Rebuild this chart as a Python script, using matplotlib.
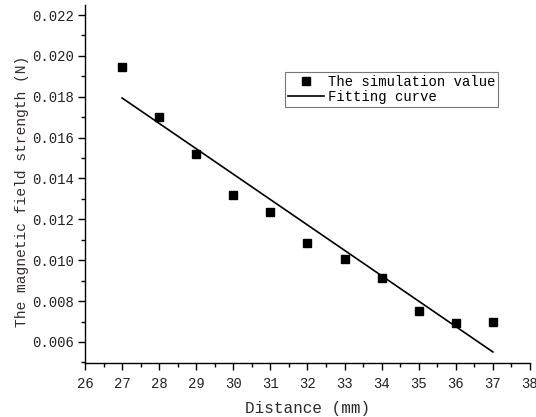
import matplotlib
matplotlib.use("Agg")
import matplotlib.pyplot as plt
from matplotlib.ticker import MultipleLocator, FormatStrFormatter

distance = [27, 28, 29, 30, 31, 32, 33, 34, 35, 36, 37]
sim_value = [0.01946, 0.01701, 0.0152, 0.0132, 0.01236, 0.01084, 0.01006, 0.00913, 0.00752, 0.00693, 0.00698]
fit_x = [27, 37]
fit_y = [0.01794, 0.00551]

xlabel = "Distance (mm)"
ylabel = "The magnetic field strength (N)"
legend_labels = ["The simulation value", "Fitting curve"]

FONT = ["Liberation Mono", "DejaVu Sans Mono"]
plt.rcParams['font.family'] = FONT

fig = plt.figure(figsize=(5.36, 4.17), dpi=100)
ax = fig.add_axes([85/536, 1 - 363/417, 445/536, 358/417])

ax.plot(distance, sim_value, linestyle='none', marker='s', markersize=6.3,
        color='black', label=legend_labels[0])
ax.plot(fit_x, fit_y, color='black', linewidth=1.2, label=legend_labels[1])

ax.set_xlim(26, 38)
ax.set_ylim(0.00497, 0.02249)
ax.xaxis.set_major_locator(MultipleLocator(1))
ax.xaxis.set_minor_locator(MultipleLocator(0.5))
ax.yaxis.set_major_locator(MultipleLocator(0.002))
ax.yaxis.set_minor_locator(MultipleLocator(0.001))
ax.yaxis.set_major_formatter(FormatStrFormatter('%.3f'))

for s in ['top', 'right']:
    ax.spines[s].set_visible(False)
for s in ['left', 'bottom']:
    ax.spines[s].set_linewidth(1.0)

ax.tick_params(which='major', direction='out', length=5, width=1.0,
               labelsize=10, colors='black')
ax.tick_params(axis='x', which='major', pad=5)
ax.tick_params(axis='y', which='major', pad=3)
ax.tick_params(which='minor', direction='out', length=3, width=1.0)
for lab in ax.get_xticklabels() + ax.get_yticklabels():
    lab.set_color('#222222')

ax.set_xlabel(xlabel, fontsize=11.5, color='#2e2a2a', labelpad=7)
ax.set_ylabel(ylabel, fontsize=10.5, color='#3a2c2c')
ax.yaxis.set_label_coords(-0.126, 0.48)

leg = ax.legend(loc='upper left', bbox_to_anchor=(200/445, 291/358),
                fontsize=10, frameon=True, fancybox=False,
                borderpad=0.2, handletextpad=0.3, labelspacing=0.1,
                borderaxespad=0, handlelength=2.6, markerscale=0.9)
leg.get_frame().set_edgecolor('#555555')
leg.get_frame().set_linewidth(0.8)

fig.savefig('out.png', dpi=100)
